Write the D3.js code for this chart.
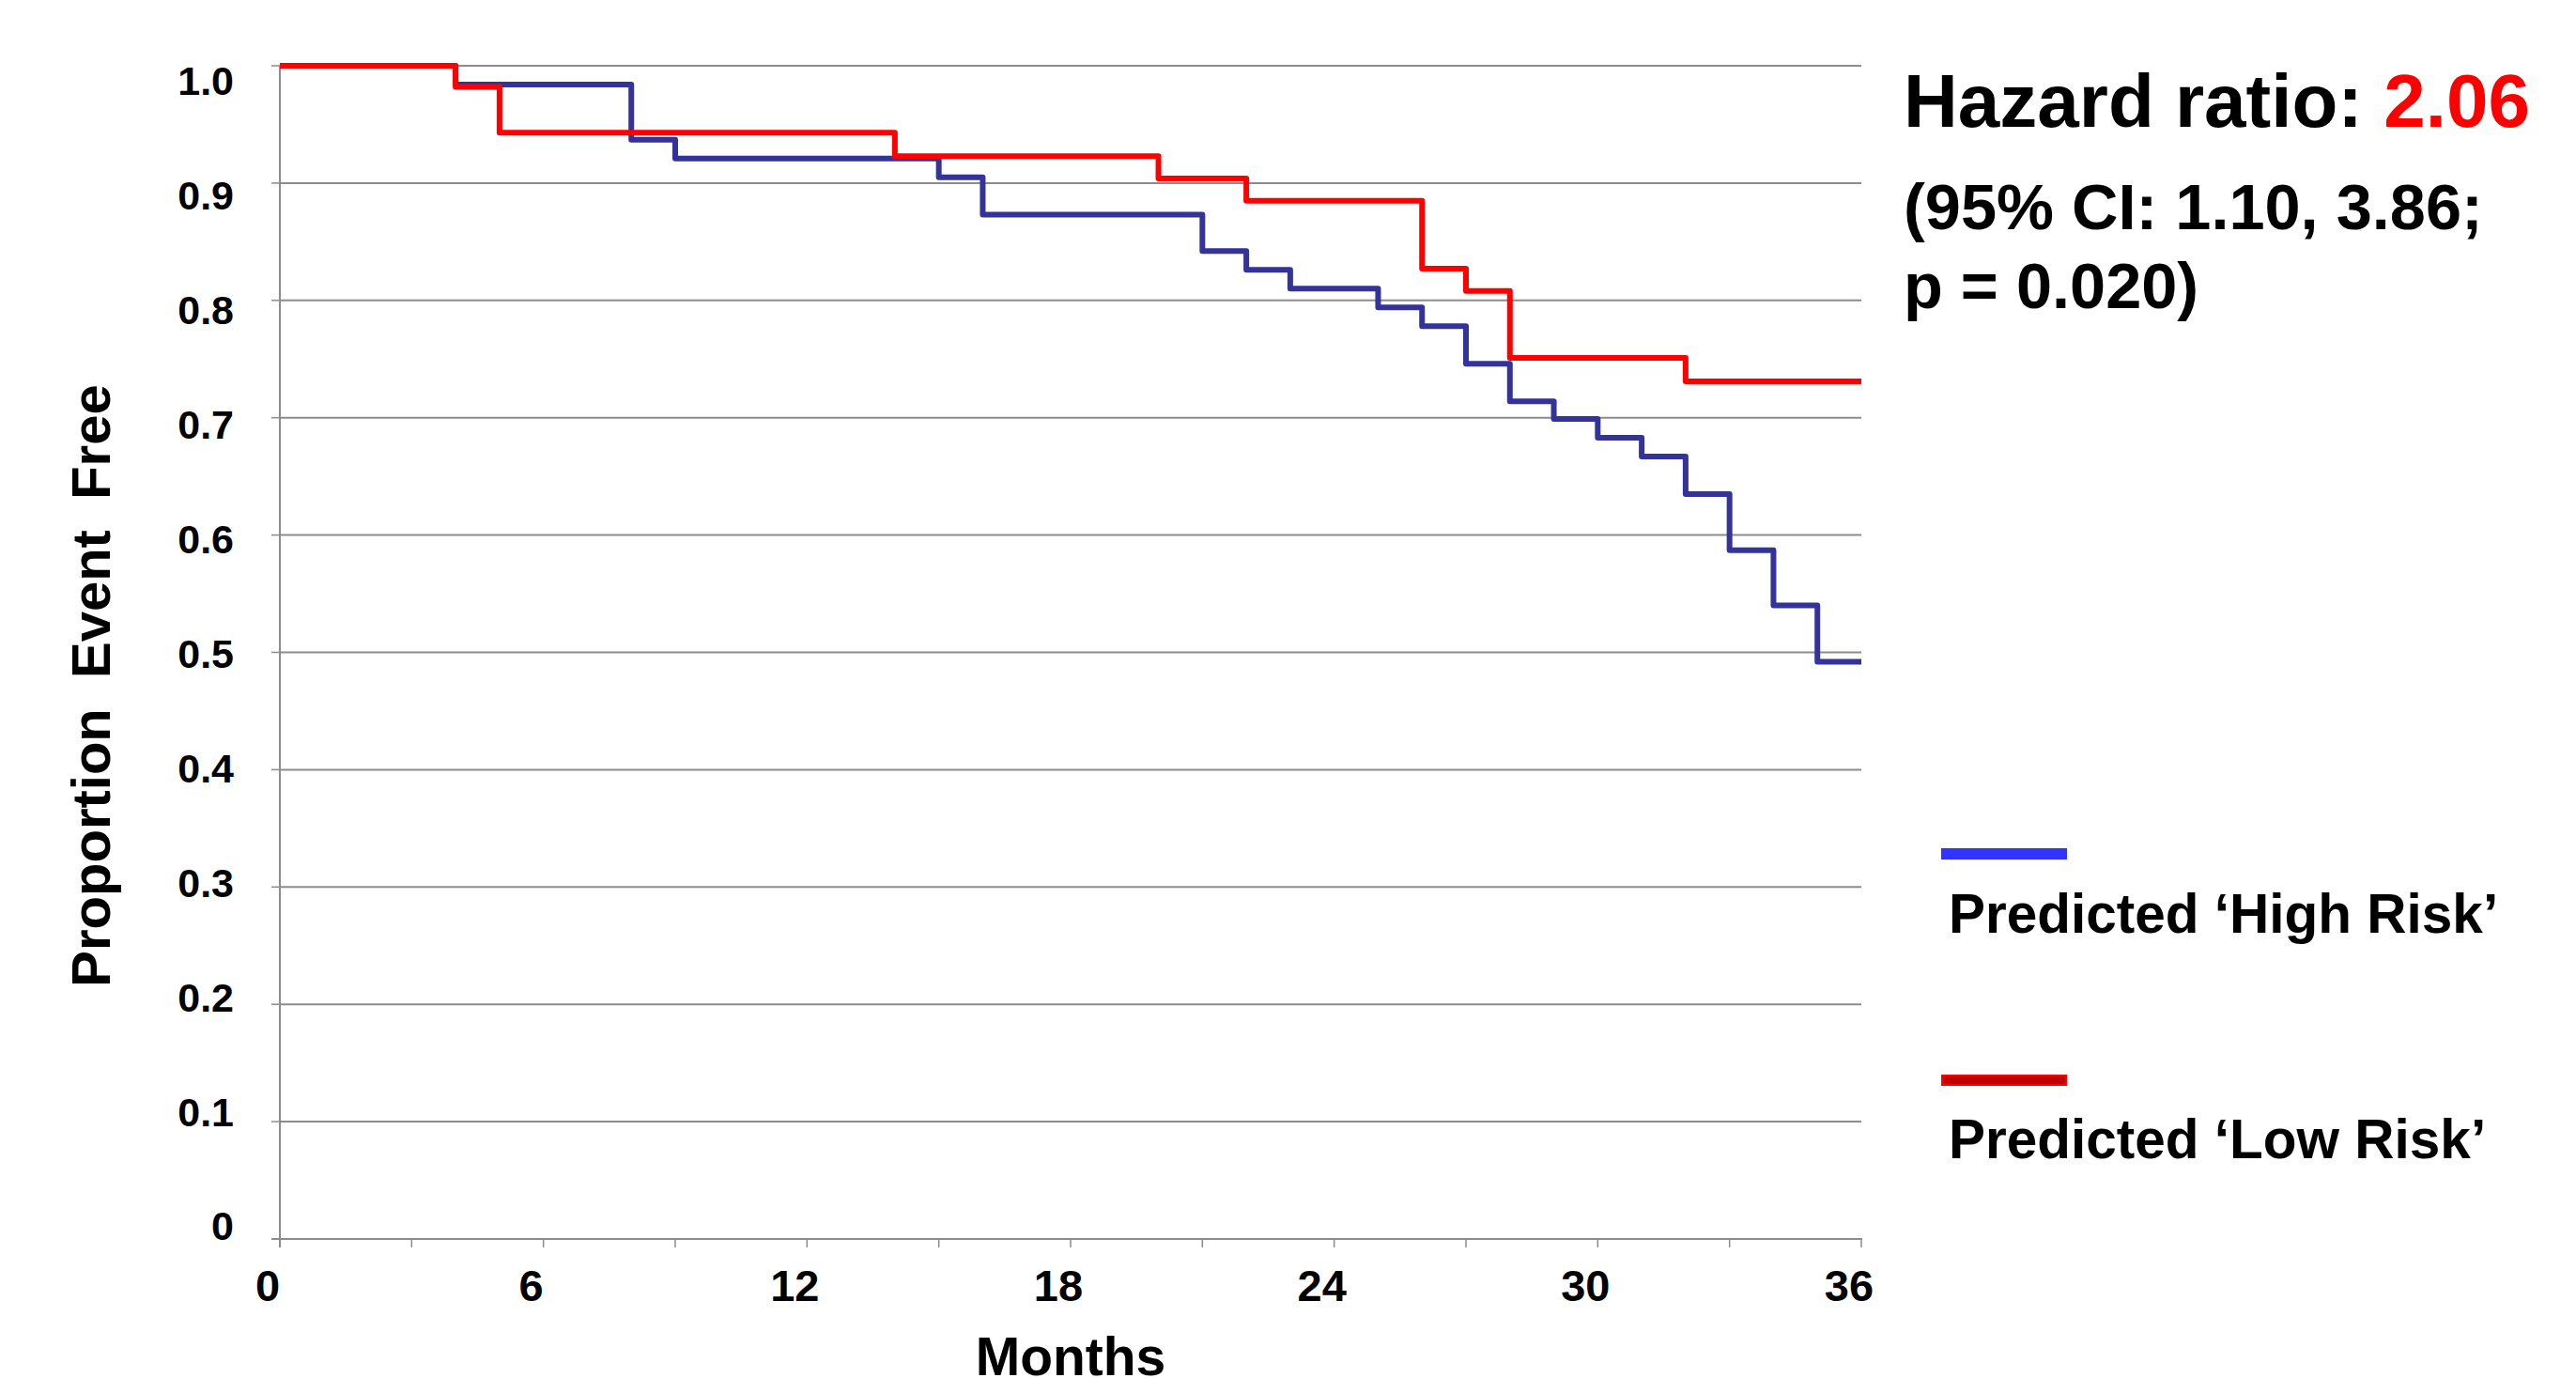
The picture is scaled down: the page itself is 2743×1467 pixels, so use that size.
<!DOCTYPE html>
<html>
<head>
<meta charset="utf-8">
<script src="https://cdn.jsdelivr.net/npm/d3@7"></script>
<style>
  html, body { margin: 0; padding: 0; background: #fff; }
  svg { display: block; }
  text { font-family: "Liberation Sans", Arial, sans-serif; font-weight: bold; }
</style>
</head>
<body>
<svg id="chart" width="2743" height="1467"></svg>
<script>
// ---- data ----
const highRiskMonths = [0, 4, 8, 9, 15, 16, 21, 22, 23, 25, 26, 27, 28, 29, 30, 31, 32, 33, 34, 35, 36];
const highRiskValues = [1.0, 0.984, 0.937, 0.921, 0.905, 0.873, 0.842, 0.826, 0.810, 0.794, 0.778, 0.746, 0.714, 0.699, 0.683, 0.667, 0.635, 0.587, 0.540, 0.492, 0.492];
const lowRiskMonths = [0, 4, 5, 14, 20, 22, 26, 27, 28, 32, 36];
const lowRiskValues = [1.0, 0.982, 0.943, 0.923, 0.904, 0.885, 0.827, 0.808, 0.751, 0.731, 0.731];
const xTickLabels = [0, 6, 12, 18, 24, 30, 36];
const xMinorTicks = [0, 3, 6, 9, 12, 15, 18, 21, 24, 27, 30, 33, 36];
const yTickValues = [0, 0.1, 0.2, 0.3, 0.4, 0.5, 0.6, 0.7, 0.8, 0.9, 1.0];
const yTickLabels = ["0", "0.1", "0.2", "0.3", "0.4", "0.5", "0.6", "0.7", "0.8", "0.9", "1.0"];
const seriesNames = ["Predicted \u2018High Risk\u2019", "Predicted \u2018Low Risk\u2019"];

(function () {
// ---- layout ----
const svg = d3.select("#chart");
const pLeft = 298, pRight = 1982, pTop = 70, pBottom = 1319;
const x = d3.scaleLinear().domain([0, 36]).range([pLeft, pRight]);
const y = d3.scaleLinear().domain([0, 1]).range([pBottom, pTop]);
const yLab = d3.scaleLinear().domain([0, 1]).range([pBottom - 14, pTop + 16]);
const gridColor = "#8c8c8c";

// gridlines
svg.append("g").selectAll("line").data(yTickValues.filter(v => v > 0)).join("line")
  .attr("x1", pLeft).attr("x2", pRight)
  .attr("y1", d => y(d)).attr("y2", d => y(d))
  .attr("stroke", gridColor).attr("stroke-width", 2);

// y axis line + ticks
svg.append("line").attr("x1", pLeft).attr("x2", pLeft).attr("y1", pTop).attr("y2", pBottom + 9)
  .attr("stroke", gridColor).attr("stroke-width", 2);
svg.append("g").selectAll("line").data(yTickValues).join("line")
  .attr("x1", pLeft - 9).attr("x2", pLeft)
  .attr("y1", d => y(d)).attr("y2", d => y(d))
  .attr("stroke", gridColor).attr("stroke-width", 1.5);

// x axis line + ticks
svg.append("line").attr("x1", pLeft - 9).attr("x2", pRight + 1).attr("y1", pBottom).attr("y2", pBottom)
  .attr("stroke", gridColor).attr("stroke-width", 2.2);
svg.append("g").selectAll("line").data(xMinorTicks).join("line")
  .attr("x1", d => x(d)).attr("x2", d => x(d))
  .attr("y1", pBottom).attr("y2", pBottom + 9)
  .attr("stroke", gridColor).attr("stroke-width", 1.5);

// y tick labels
svg.append("g").selectAll("text").data(yTickValues).join("text")
  .attr("x", 249).attr("y", d => yLab(d))
  .attr("dy", "0.36em")
  .attr("text-anchor", "end")
  .attr("font-size", 43)
  .attr("fill", "#000")
  .text((d, i) => yTickLabels[i]);

// x tick labels
svg.append("g").selectAll("text").data(xTickLabels).join("text")
  .attr("x", d => x(d) - 13).attr("y", 1385)
  .attr("text-anchor", "middle")
  .attr("font-size", 47)
  .attr("fill", "#000")
  .text(d => d);

// axis titles
svg.append("text")
  .attr("transform", "translate(117,730) rotate(-90)")
  .attr("text-anchor", "middle")
  .attr("font-size", 58)
  .style("white-space", "pre")
  .attr("fill", "#000")
  .text("Proportion  Event  Free");
svg.append("text")
  .attr("x", (pLeft + pRight) / 2).attr("y", 1464)
  .attr("text-anchor", "middle")
  .attr("font-size", 57)
  .attr("fill", "#000")
  .text("Months");

// curves
const line = d3.line().curve(d3.curveStepAfter).x(d => x(d[0])).y(d => y(d[1]));
svg.append("path")
  .datum(d3.zip(highRiskMonths, highRiskValues))
  .attr("d", line).attr("fill", "none")
  .attr("stroke", "#333399").attr("stroke-width", 6)
  .attr("stroke-linejoin", "round");
svg.append("path")
  .datum(d3.zip(lowRiskMonths, lowRiskValues))
  .attr("d", line).attr("fill", "none")
  .attr("stroke", "#ff0000").attr("stroke-width", 6)
  .attr("stroke-linejoin", "round");

// hazard ratio text
const hr = svg.append("text").attr("x", 2027).attr("y", 135).attr("font-size", 80).attr("fill", "#000");
hr.append("tspan").text("Hazard ratio: ");
hr.append("tspan").attr("fill", "#ff0000").text("2.06");
svg.append("text").attr("x", 2027).attr("y", 244).attr("font-size", 68.5).attr("fill", "#000")
  .text("(95% CI: 1.10, 3.86;");
svg.append("text").attr("x", 2027).attr("y", 328).attr("font-size", 68.5).attr("fill", "#000")
  .text("p = 0.020)");

// legend
svg.append("rect").attr("x", 2067).attr("y", 903).attr("width", 134).attr("height", 12)
  .attr("fill", "#3333ff");
svg.append("text").attr("x", 2075).attr("y", 993).attr("font-size", 58.5).attr("fill", "#000")
  .text(seriesNames[0]);
svg.append("rect").attr("x", 2068).attr("y", 1145).attr("width", 132).attr("height", 10)
  .attr("fill", "#c00000").attr("stroke", "#ff0000").attr("stroke-width", 2);
svg.append("text").attr("x", 2075).attr("y", 1233).attr("font-size", 58.5).attr("fill", "#000")
  .text(seriesNames[1]);
})();
</script>
</body>
</html>
